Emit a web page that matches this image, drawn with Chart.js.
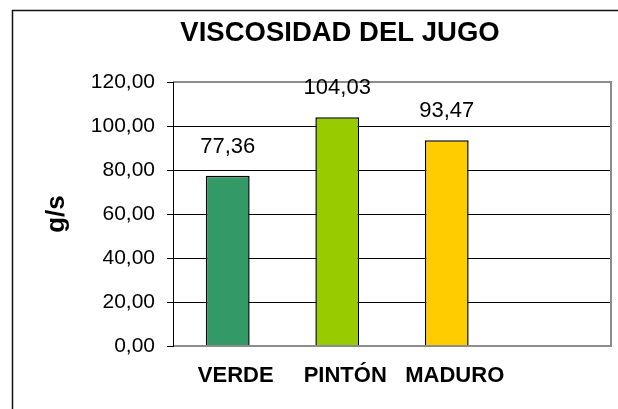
<!DOCTYPE html>
<html><head><meta charset="utf-8">
<script src="https://cdn.jsdelivr.net/npm/chart.js@4"></script>
<style>html,body{margin:0;padding:0;background:#fff;overflow:hidden;} #wrap{position:relative;width:618px;height:409px;}</style>
</head><body><div id="wrap"><canvas id="c" width="618" height="409"></canvas></div>
<script>
const categories = ['VERDE', 'PINTÓN', 'MADURO', ''];
const values = [77.36, 104.03, 93.47, null];
const barColors = ['#339966', '#99CC00', '#FFCC00', '#FFFFFF'];
const yTickMin = 0;
const yTickMax = 120;
const yTickStep = 20;
const chartTitle = 'VISCOSIDAD DEL JUGO';
const yTitle = 'g/s';

const FONT = '"Liberation Sans", Arial, sans-serif';
const fmt = v => Number(v).toFixed(2).replace('.', ',');

const decor = {
  id: 'decor',
  beforeDraw(chart) {
    const ctx = chart.ctx;
    ctx.save();
    ctx.fillStyle = '#fff';
    ctx.fillRect(0, 0, chart.width, chart.height);
    ctx.strokeStyle = '#111';
    ctx.lineWidth = 1.5;
    ctx.beginPath();
    ctx.moveTo(12.5, chart.height + 2);
    ctx.lineTo(12.5, 10.5);
    ctx.lineTo(chart.width + 2, 10.5);
    ctx.stroke();
    ctx.fillStyle = '#000';
    ctx.font = 'bold 27.5px ' + FONT;
    ctx.textAlign = 'center';
    ctx.textBaseline = 'middle';
    ctx.fillText(chartTitle, 340, 33);
    ctx.restore();
  },
  afterDatasetsDraw(chart) {
    const ctx = chart.ctx;
    const a = chart.chartArea;
    ctx.save();
    ctx.strokeStyle = '#8c8c8c';
    ctx.lineWidth = 2;
    ctx.beginPath();
    ctx.moveTo(a.left, a.top);
    ctx.lineTo(a.right, a.top);
    ctx.lineTo(a.right, a.bottom);
    ctx.lineTo(a.left, a.bottom);
    ctx.stroke();
    ctx.strokeStyle = '#000';
    ctx.lineWidth = 1;
    ctx.beginPath();
    ctx.moveTo(a.left + 0.5, a.top);
    ctx.lineTo(a.left + 0.5, a.bottom + 1);
    ctx.stroke();
    ctx.fillStyle = '#000';
    ctx.font = '22px ' + FONT;
    ctx.textAlign = 'center';
    ctx.textBaseline = 'middle';
    const meta = chart.getDatasetMeta(0);
    meta.data.forEach((el, i) => {
      const v = values[i];
      if (v === null || v === undefined) return;
      ctx.fillText(fmt(v), el.x, el.y - 29);
    });
    ctx.restore();
  }
};

new Chart(document.getElementById('c'), {
  type: 'bar',
  data: {
    labels: categories,
    datasets: [{
      data: values,
      backgroundColor: barColors,
      borderColor: '#000',
      borderWidth: 1.5,
      barPercentage: 0.4,
      categoryPercentage: 1.0
    }]
  },
  options: {
    responsive: false,
    animation: false,
    devicePixelRatio: 1,
    layout: { padding: { left: 0, top: 82, right: 7, bottom: 0 } },
    plugins: { legend: { display: false }, title: { display: false }, tooltip: { enabled: false } },
    scales: {
      x: {
        grid: { display: false, drawTicks: false },
        border: { display: false },
        ticks: { color: '#000', font: { family: FONT, size: 22, weight: 'bold' }, padding: 17, maxRotation: 0, labelOffset: 8 },
        afterFit(s) { s.height = 63; }
      },
      y: {
        min: yTickMin,
        max: yTickMax,
        grid: { color: '#000', lineWidth: 1, tickLength: 6, drawTicks: true },
        border: { display: true, color: '#000', width: 1 },
        ticks: { stepSize: yTickStep, color: '#000', font: { family: FONT, size: 21 }, padding: 12, callback: v => fmt(v) },
        title: { display: true, text: yTitle, color: '#000', font: { family: FONT, size: 26, weight: 'bold' }, padding: { top: 41, bottom: 0 } },
        afterFit(s) { s.width = 173; }
      }
    }
  },
  plugins: [decor]
});
</script>
</body></html>
